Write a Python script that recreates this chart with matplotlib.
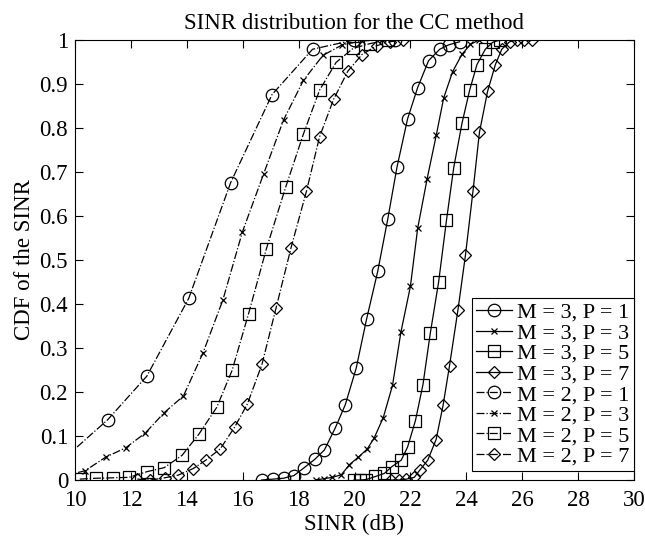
import matplotlib
matplotlib.use("Agg")
import matplotlib.pyplot as plt

plt.rcParams["font.family"] = ["Liberation Serif", "DejaVu Serif"]

# M = 3 (solid) series, SINR in dB and CDF value
m3_p1_x = [16.68, 17.08, 17.46, 17.83, 18.20, 18.58, 18.92, 19.31, 19.67, 20.06,
           20.43, 20.83, 21.19, 21.52, 21.90, 22.26, 22.65, 23.05, 23.37, 23.76]
m3_p1_y = [0.0, 0.002, 0.004, 0.010, 0.028, 0.047, 0.068, 0.118, 0.171, 0.254,
           0.365, 0.474, 0.593, 0.711, 0.821, 0.892, 0.953, 0.979, 0.989, 0.996]

m3_p3_x = [18.61, 18.90, 19.21, 19.53, 19.82, 20.14, 20.45, 20.70, 21.03, 21.36,
           21.66, 22.00, 22.26, 22.60, 22.93, 23.19, 23.51, 23.85, 24.15, 24.45]
m3_p3_y = [0.0, 0.003, 0.006, 0.012, 0.035, 0.052, 0.070, 0.095, 0.142, 0.215,
           0.336, 0.440, 0.572, 0.685, 0.785, 0.868, 0.928, 0.968, 0.990, 1.0]

m3_p5_x = [19.98, 20.20, 20.42, 20.75, 21.07, 21.33, 21.67, 21.90, 22.18, 22.45,
           22.71, 23.01, 23.29, 23.55, 23.85, 24.12, 24.38, 24.68, 24.95, 25.21]
m3_p5_y = [0.0, 0.0, 0.001, 0.008, 0.015, 0.030, 0.045, 0.075, 0.135, 0.217,
           0.333, 0.450, 0.590, 0.710, 0.812, 0.886, 0.944, 0.979, 0.995, 1.0]

m3_p7_x = [21.31, 21.58, 21.86, 22.14, 22.33, 22.62, 22.92, 23.17, 23.40, 23.70,
           23.97, 24.24, 24.47, 24.76, 25.04, 25.27, 25.55, 25.80, 26.08, 26.35]
m3_p7_y = [0.0, 0.0, 0.002, 0.006, 0.022, 0.045, 0.092, 0.170, 0.260, 0.386,
           0.511, 0.657, 0.790, 0.883, 0.944, 0.979, 0.996, 1.0, 1.0, 1.0]

# M = 2 (dash-dot) series
m2_p1_x = [9.72, 11.17, 12.57, 14.07, 15.57, 17.05, 18.50, 19.98, 21.45]
m2_p1_y = [0.055, 0.137, 0.236, 0.413, 0.676, 0.876, 0.979, 1.0, 1.0]

m2_p3_x = [9.65, 10.36, 11.10, 11.81, 12.52, 13.19, 13.88, 14.58, 15.29, 15.99,
           16.75, 17.46, 18.17, 18.87, 19.56, 20.27, 20.99]
m2_p3_y = [0.010, 0.021, 0.052, 0.073, 0.107, 0.153, 0.191, 0.289, 0.409, 0.564,
           0.696, 0.818, 0.908, 0.965, 0.989, 0.998, 1.0]

m2_p5_x = [10.17, 10.76, 11.36, 11.93, 12.58, 13.19, 13.83, 14.43, 15.07, 15.62,
           16.21, 16.85, 17.54, 18.17, 18.75, 19.34, 19.95, 20.57, 21.19]
m2_p5_y = [0.002, 0.004, 0.005, 0.006, 0.019, 0.028, 0.056, 0.104, 0.165, 0.249,
           0.378, 0.526, 0.666, 0.786, 0.886, 0.949, 0.981, 0.992, 1.0]

m2_p7_x = [12.23, 12.70, 13.21, 13.69, 14.23, 14.68, 15.20, 15.71, 16.17, 16.69,
           17.19, 17.73, 18.28, 18.75, 19.25, 19.76, 20.27, 20.79, 21.26, 21.74]
m2_p7_y = [0.002, 0.0, 0.005, 0.011, 0.026, 0.045, 0.071, 0.120, 0.173, 0.263,
           0.390, 0.528, 0.656, 0.780, 0.865, 0.929, 0.967, 0.987, 0.996, 1.0]

series = [
    (m3_p1_x, m3_p1_y, "-", "o", 9, "M = 3, P = 1"),
    (m3_p3_x, m3_p3_y, "-", "x", 4.5, "M = 3, P = 3"),
    (m3_p5_x, m3_p5_y, "-", "s", 8, "M = 3, P = 5"),
    (m3_p7_x, m3_p7_y, "-", "D", 6.5, "M = 3, P = 7"),
    (m2_p1_x, m2_p1_y, "-.", "o", 9, "M = 2, P = 1"),
    (m2_p3_x, m2_p3_y, "-.", "x", 4.5, "M = 2, P = 3"),
    (m2_p5_x, m2_p5_y, "-.", "s", 8, "M = 2, P = 5"),
    (m2_p7_x, m2_p7_y, "-.", "D", 6.5, "M = 2, P = 7"),
]

FS = 16.5

fig = plt.figure(figsize=(6.45, 5.44), dpi=100)
# axes box in pixels: left 75, right 634, top 40, bottom 480
ax = fig.add_axes([75 / 645, 64 / 544, 559 / 645, 440 / 544])

for xs, ys, ls, mk, ms, label in series:
    ax.plot(xs, ys, color="black", linestyle=ls, linewidth=0.9, marker=mk,
            markersize=ms, markerfacecolor="none", markeredgecolor="black",
            markeredgewidth=0.9, label=label)

ax.set_xlim(10, 30)
ax.set_ylim(0, 1)
ax.set_xticks(range(10, 31, 2))
ax.set_yticks([i / 10 for i in range(11)])
ax.set_yticklabels(["0"] + [f"{i / 10:.1f}" for i in range(1, 10)] + ["1"])
ax.tick_params(direction="in", top=True, right=True, length=6, width=0.8,
               labelsize=FS)
ax.tick_params(axis="x", pad=7)
ax.tick_params(axis="y", pad=5)
for spine in ax.spines.values():
    spine.set_linewidth(0.8)

ax.set_title("SINR distribution for the CC method", fontsize=FS, pad=8)
ax.set_xlabel("SINR (dB)", fontsize=FS, labelpad=2)
ax.set_ylabel("CDF of the SINR", fontsize=FS, labelpad=3)

leg = ax.legend(loc="lower right", bbox_to_anchor=(1.0, 0.02), fontsize=16,
                frameon=True, fancybox=False, framealpha=1, edgecolor="black",
                handlelength=1.6, handletextpad=0.25, labelspacing=0.0,
                borderpad=0.2, borderaxespad=0)
leg.get_frame().set_linewidth(0.8)

fig.savefig("out.png", dpi=100)
